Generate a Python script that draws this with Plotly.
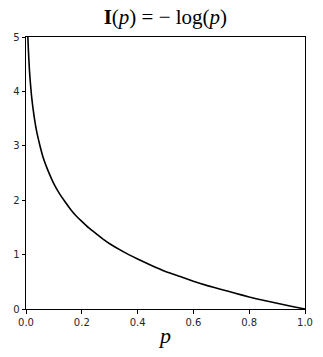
import plotly.graph_objects as go

p_values = [0.004, 0.0067, 0.008, 0.01, 0.0125, 0.015, 0.0175, 0.02, 0.025, 0.03, 0.035, 0.04,
            0.05, 0.06, 0.07, 0.08, 0.09, 0.1, 0.12, 0.14, 0.16, 0.18, 0.2, 0.225, 0.25,
            0.275, 0.3, 0.35, 0.4, 0.45, 0.5, 0.55, 0.6, 0.65, 0.7, 0.75, 0.8,
            0.85, 0.9, 0.95, 1.0]
info_values = [5.52, 5.0, 4.83, 4.61, 4.38, 4.20, 4.05, 3.91, 3.69, 3.51, 3.35, 3.22,
               3.00, 2.81, 2.66, 2.53, 2.41, 2.30, 2.12, 1.97, 1.83, 1.71, 1.61, 1.49, 1.39,
               1.29, 1.20, 1.05, 0.92, 0.80, 0.69, 0.60, 0.51, 0.43, 0.36, 0.29, 0.22,
               0.16, 0.105, 0.05, 0.0]
x_ticks = [0.0, 0.2, 0.4, 0.6, 0.8, 1.0]
x_tick_labels = ["0.0", "0.2", "0.4", "0.6", "0.8", "1.0"]
y_ticks = [0, 1, 2, 3, 4, 5]
y_tick_labels = ["0", "1", "2", "3", "4", "5"]

fig = go.Figure()
fig.add_trace(go.Scatter(x=p_values, y=info_values, mode="lines",
                         line=dict(color="black", width=1.6, shape="spline", smoothing=0.3),
                         showlegend=False, hoverinfo="skip"))

axis_common = dict(showline=True, linecolor="black", linewidth=1, mirror=True,
                   ticks="outside", ticklen=3.5, tickwidth=1, tickcolor="black",
                   showgrid=False, zeroline=False, automargin=False,
                   tickfont=dict(family="DejaVu Sans", size=10, color="#262626"))

fig.update_layout(
    width=323, height=357,
    margin=dict(l=26, r=18, t=37, b=48),
    paper_bgcolor="white", plot_bgcolor="white",
    title=dict(text="<b>I</b>(<i>p</i>) = − log(<i>p</i>)", x=0.512, xanchor="center",
               y=1 - 17 / 357, yanchor="middle", automargin=False,
               font=dict(family="Liberation Serif", size=21, color="black")),
    xaxis=dict(range=[0, 1], tickvals=x_ticks, ticktext=x_tick_labels,
               title=dict(text="<i>p</i>", standoff=1,
                          font=dict(family="Liberation Serif", size=22, color="black")),
               **axis_common),
    yaxis=dict(range=[0, 5], tickvals=y_ticks, ticktext=y_tick_labels, **axis_common),
)

fig.write_html("out.html")
